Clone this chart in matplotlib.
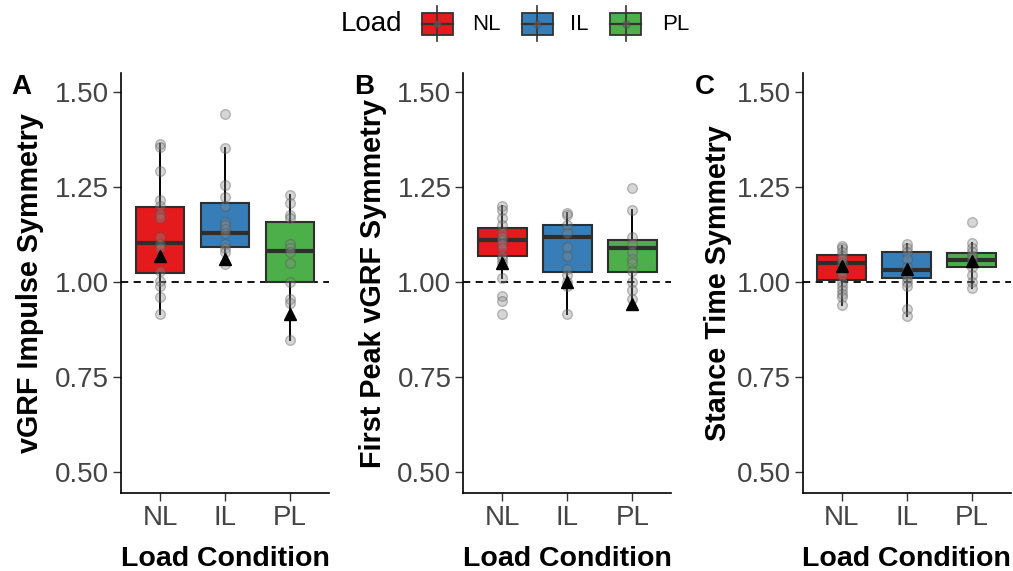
import matplotlib
matplotlib.use("Agg")
import matplotlib.pyplot as plt
from matplotlib.patches import Rectangle
from matplotlib.lines import Line2D

plt.rcParams['font.family'] = ['Liberation Sans', 'DejaVu Sans']

W, H = 1013, 571

categories = ["NL", "IL", "PL"]
colors = {"NL": "#E41A1C", "IL": "#377EB8", "PL": "#4DAF4A"}
ylabels = ["vGRF Impulse Symmetry", "First Peak vGRF Symmetry", "Stance Time Symmetry"]
panel_letters = ["A", "B", "C"]
yticks = [0.50, 0.75, 1.00, 1.25, 1.50]

# Box statistics per panel: [NL, IL, PL]
q1 = [[1.024, 1.094, 1.000], [1.069, 1.028, 1.028], [1.005, 1.010, 1.039]]
med = [[1.103, 1.131, 1.082], [1.111, 1.120, 1.091], [1.052, 1.032, 1.058]]
q3 = [[1.199, 1.208, 1.160], [1.142, 1.151, 1.110], [1.072, 1.081, 1.076]]
whislo = [[0.916, 1.047, 0.848], [1.012, 0.916, 0.955], [0.940, 0.910, 0.986]]
whishi = [[1.363, 1.353, 1.229], [1.200, 1.183, 1.190], [1.096, 1.102, 1.104]]
means = [[1.069, 1.062, 0.916], [1.050, 1.000, 0.942], [1.043, 1.034, 1.056]]

# Individual observations
pts_A_NL = [1.363, 1.355, 1.293, 1.217, 1.20, 1.18, 1.17, 1.12, 1.10, 1.09, 1.03, 1.003, 0.99, 0.96, 0.916]
pts_A_IL = [1.442, 1.353, 1.255, 1.224, 1.20, 1.16, 1.15, 1.14, 1.13, 1.10, 1.09, 1.08, 1.047]
pts_A_PL = [1.229, 1.21, 1.176, 1.17, 1.10, 1.09, 1.08, 1.05, 1.00, 0.955, 0.946, 0.848]
pts_B_NL = [1.20, 1.19, 1.17, 1.15, 1.13, 1.12, 1.11, 1.10, 1.09, 1.07, 1.06, 1.05, 1.012, 0.964, 0.951, 0.916]
pts_B_IL = [1.183, 1.178, 1.15, 1.13, 1.092, 1.069, 1.034, 1.02, 1.00, 0.99, 0.916]
pts_B_PL = [1.249, 1.19, 1.12, 1.10, 1.08, 1.06, 1.05, 1.03, 1.00, 0.98, 0.955]
pts_C_NL = [1.096, 1.09, 1.08, 1.07, 1.06, 1.05, 1.04, 1.03, 1.02, 1.00, 0.99, 0.98, 0.97, 0.96, 0.94]
pts_C_IL = [1.102, 1.09, 1.08, 1.06, 1.04, 1.03, 1.02, 1.01, 1.00, 0.99, 0.93, 0.91]
pts_C_PL = [1.16, 1.104, 1.09, 1.08, 1.07, 1.06, 1.05, 1.04, 1.02, 1.00, 0.986]
points = [[pts_A_NL, pts_A_IL, pts_A_PL],
          [pts_B_NL, pts_B_IL, pts_B_PL],
          [pts_C_NL, pts_C_IL, pts_C_PL]]

fig = plt.figure(figsize=(W / 100, H / 100), dpi=100)

def fx(px):
    return px / W

def fy(py):
    return 1 - py / H

ax_left = [121, 463.3, 802.7]
ax_w = 208
ax_top, ax_bot = 72.7, 493.3
ylab_x = [30, 373, 718]
letter_x = [21, 364, 705]

edge = "#2E2E2E"
tick_col = "#444444"

for i in range(3):
    ax = fig.add_axes([fx(ax_left[i]), fy(ax_bot), fx(ax_w), (ax_bot - ax_top) / H])
    stats = []
    for j, c in enumerate(categories):
        stats.append(dict(q1=q1[i][j], med=med[i][j], q3=q3[i][j],
                          whislo=whislo[i][j], whishi=whishi[i][j], fliers=[], label=c))
    pos = [1, 2, 3]
    ax.axhline(1.0, color="black", ls=(0, (4, 3)), lw=1.3, zorder=1)
    bp = ax.bxp(stats, positions=pos, widths=0.75, patch_artist=True, showcaps=False,
                showfliers=False,
                boxprops=dict(edgecolor=edge, linewidth=1.5),
                medianprops=dict(color=edge, linewidth=3.0),
                whiskerprops=dict(color="black", linewidth=1.4),
                zorder=2)
    for patch, c in zip(bp['boxes'], categories):
        patch.set_facecolor(colors[c])
    for j in range(3):
        ax.plot([pos[j]] * len(points[i][j]), points[i][j], 'o', ms=7,
                mfc=(0.55, 0.55, 0.55, 0.35), mec=(0.3, 0.3, 0.3, 0.35), mew=1.0, zorder=3)
    ax.plot(pos, means[i], '^', color="black", ms=8, zorder=4, ls='none')
    ax.set_xlim(0.4, 3.6)
    ax.set_ylim(0.4447, 1.5516)
    ax.set_yticks(yticks)
    ax.set_yticklabels([f"{v:.2f}" for v in yticks])
    ax.set_xticks(pos)
    ax.set_xticklabels(categories)
    ax.tick_params(axis='both', length=5.5, width=1.0, color="#333333",
                   labelsize=20, labelcolor=tick_col, pad=3)
    for s in ["top", "right"]:
        ax.spines[s].set_visible(False)
    for s in ["left", "bottom"]:
        ax.spines[s].set_linewidth(1.2)
        ax.spines[s].set_color("black")
    cx = ax_left[i] + ax_w / 2
    fig.text(fx(cx), fy(566), "Load Condition", ha="center", va="baseline",
             fontsize=20.5, fontweight="bold", color="black")
    fig.text(fx(ylab_x[i]), fy((ax_top + ax_bot) / 2), ylabels[i], rotation=90,
             ha="center", va="center", fontsize=20.7, fontweight="bold", color="black")
    fig.text(fx(letter_x[i]), fy(87), panel_letters[i], ha="center", va="center",
             fontsize=20, fontweight="bold", color="black")

# Legend
fig.text(fx(340.7), fy(24), "Load", ha="left", va="center", fontsize=20, color="black")
key_x = [421.7, 521.7, 610]
lab_x = [471.7, 570, 661.7]
for kx, lx, c in zip(key_x, lab_x, categories):
    cxp = kx + 15.5
    fig.add_artist(Line2D([fx(cxp), fx(cxp)], [fy(6), fy(41)], color="#333333", lw=1.2))
    fig.add_artist(Rectangle((fx(kx), fy(35)), fx(31), 22 / H, facecolor=colors[c],
                             edgecolor="#333333", lw=1.3))
    fig.add_artist(Line2D([fx(kx), fx(kx + 31)], [fy(24), fy(24)], color="#333333", lw=1.6))
    fig.add_artist(Line2D([fx(cxp)], [fy(24)], marker='o', ms=5,
                          mfc=(0.4, 0.4, 0.4, 0.5), mec=(0.3, 0.3, 0.3, 0.5)))
    fig.text(fx(lx), fy(24), c, ha="left", va="center", fontsize=16, color="black")

fig.savefig("out.png", dpi=100)
